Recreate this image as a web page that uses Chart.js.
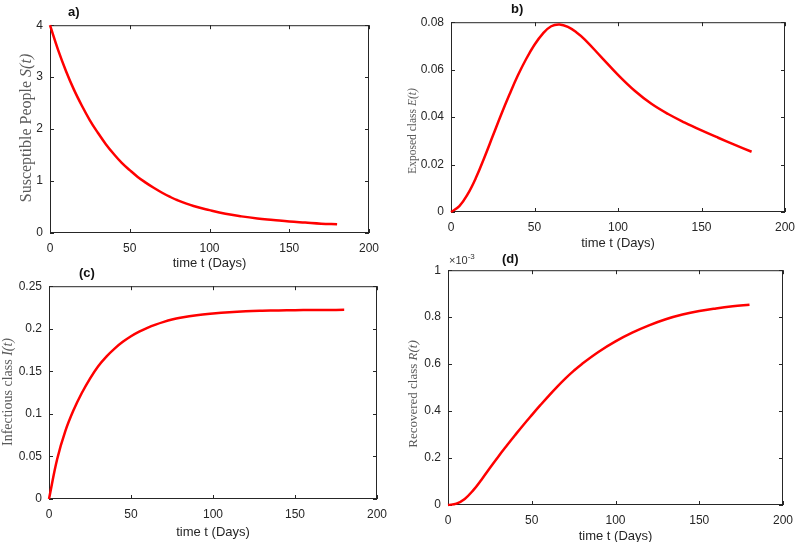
<!DOCTYPE html>
<html>
<head>
<meta charset="utf-8">
<script src="https://cdn.jsdelivr.net/npm/chart.js@4.4.0/dist/chart.umd.min.js"></script>
<style>
  html, body { margin: 0; padding: 0; background: #fff; }
  body { position: relative; width: 796px; height: 542px; overflow: hidden; }
  canvas { position: absolute; }
  .tag { position: absolute; font: bold 13px 'Liberation Sans', Arial, sans-serif; color: #111; line-height: 1; }
  .mult { position: absolute; font: 11px 'Liberation Sans', Arial, sans-serif; color: #333; line-height: 1; }
  .mult sup { font-size: 8px; }
</style>
</head>
<body>
<canvas id="panelA"></canvas>
<canvas id="panelB"></canvas>
<canvas id="panelC"></canvas>
<canvas id="panelD"></canvas>
<div class="tag" style="left:68px; top:5px;">a)</div>
<div class="tag" style="left:511px; top:2px;">b)</div>
<div class="tag" style="left:79px; top:266px;">(c)</div>
<div class="tag" style="left:502px; top:252px;">(d)</div>
<div class="mult" style="left:449px; top:253px;">&times;10<sup>-3</sup></div>
<script>
// time in days
const days = [0, 5, 10, 15, 20, 25, 30, 35, 40, 45, 50, 55, 60, 65, 70, 75, 80, 90, 100, 110, 120, 130, 140, 150, 160, 170, 180];

const susceptible = [4.00, 3.53, 3.12, 2.76, 2.45, 2.17, 1.93, 1.71, 1.52, 1.35, 1.21, 1.08, 0.97, 0.87, 0.78, 0.70, 0.63, 0.52, 0.44, 0.37, 0.32, 0.28, 0.25, 0.22, 0.20, 0.18, 0.17];
const exposed = [0, 0.0025, 0.0075, 0.0145, 0.023, 0.032, 0.041, 0.0495, 0.0575, 0.0645, 0.0705, 0.0752, 0.0783, 0.0790, 0.0780, 0.0758, 0.0728, 0.0653, 0.0578, 0.0511, 0.0456, 0.0413, 0.0377, 0.0344, 0.0313, 0.0283, 0.0254];
const infectious = [0, 0.047, 0.080, 0.1045, 0.1245, 0.1415, 0.156, 0.1673, 0.1767, 0.1846, 0.1912, 0.1966, 0.2011, 0.2049, 0.2081, 0.2108, 0.2129, 0.2160, 0.2180, 0.2195, 0.2205, 0.2211, 0.2215, 0.2218, 0.2220, 0.2221, 0.2222];
// recovered class, in units of 1e-3
const recoveredE3 = [0, 0.006, 0.026, 0.062, 0.108, 0.158, 0.206, 0.252, 0.297, 0.341, 0.383, 0.424, 0.464, 0.502, 0.538, 0.571, 0.601, 0.653, 0.697, 0.734, 0.765, 0.791, 0.811, 0.826, 0.837, 0.846, 0.853];

const xTicks = [0, 50, 100, 150, 200];
const sTicks = [0, 1, 2, 3, 4];
const eTicks = [0, 0.02, 0.04, 0.06, 0.08];
const iTicks = [0, 0.05, 0.1, 0.15, 0.2, 0.25];
const rTicks = [0, 0.2, 0.4, 0.6, 0.8, 1];

const INK = '#262626';
const SANS = "'Liberation Sans', Arial, sans-serif";
const SERIF = "'Liberation Serif', 'Times New Roman', serif";

// box around plot area + inward ticks on all four sides (matlab look)
const boxTicks = {
    id: 'boxTicks',
    beforeDatasetsDraw(chart) {
        const { ctx, chartArea: a, scales: { x, y } } = chart;
        const len = 4;
        ctx.save();
        ctx.strokeStyle = INK;
        ctx.lineWidth = 1;
        ctx.beginPath();
        x.ticks.forEach(t => {
            const px = Math.round(x.getPixelForValue(t.value)) + 0.5;
            ctx.moveTo(px, a.bottom); ctx.lineTo(px, a.bottom - len);
            ctx.moveTo(px, a.top); ctx.lineTo(px, a.top + len);
        });
        y.ticks.forEach(t => {
            const py = Math.round(y.getPixelForValue(t.value)) + 0.5;
            ctx.moveTo(a.left, py); ctx.lineTo(a.left + len, py);
            ctx.moveTo(a.right, py); ctx.lineTo(a.right - len, py);
        });
        ctx.stroke();
        ctx.strokeRect(a.left + 0.5, a.top + 0.5, a.right - a.left - 1, a.bottom - a.top - 1);
        ctx.restore();
    }
};

// rotated y label: plain words + italic math part, e.g. "Exposed class " + "E(t)"
const yLabel = {
    id: 'yLabel',
    afterDraw(chart, args, o) {
        const ctx = chart.ctx;
        ctx.save();
        ctx.translate(o.x, o.y);
        ctx.rotate(-Math.PI / 2);
        ctx.fillStyle = '#5a5a5a';
        ctx.textBaseline = 'middle';
        ctx.textAlign = 'left';
        const plain = o.size + 'px ' + SERIF;
        const ital = 'italic ' + o.size + 'px ' + SERIF;
        ctx.font = plain;
        const w1 = ctx.measureText(o.text).width;
        ctx.font = ital;
        const w2 = ctx.measureText(o.math).width;
        const x0 = -(w1 + w2) / 2;
        ctx.font = plain;
        ctx.fillText(o.text, x0, 0);
        ctx.font = ital;
        ctx.fillText(o.math, x0 + w1, 0);
        ctx.restore();
    }
};

const fmt = v => String(Math.round(v * 10000) / 10000);

function makePanel(id, box, values, yTicks, label) {
    const canvas = document.getElementById(id);
    const padRight = 22;
    const top = box.plotTop - 10;
    const bottom = box.xTitleY + 10;
    canvas.width = box.plotRight + padRight - box.left;
    canvas.height = bottom - top;
    canvas.style.left = box.left + 'px';
    canvas.style.top = top + 'px';

    const yW = box.plotLeft - box.left;
    const xH = bottom - box.plotBottom;

    new Chart(canvas, {
        type: 'line',
        data: {
            labels: days,
            datasets: [{
                data: days.map((d, i) => ({ x: d, y: values[i] })),
                borderColor: '#ff0000',
                borderWidth: 2.5,
                pointRadius: 0,
                tension: 0.4,
                clip: false
            }]
        },
        options: {
            responsive: false,
            animation: false,
            events: [],
            layout: { padding: { left: 0, top: 10, right: padRight, bottom: 0 } },
            plugins: {
                legend: { display: false },
                tooltip: { enabled: false },
                yLabel: {
                    text: label.text, math: label.math, size: label.size,
                    x: label.x - box.left, y: label.y - top
                }
            },
            scales: {
                x: {
                    type: 'linear',
                    min: 0,
                    max: 200,
                    afterBuildTicks: s => { s.ticks = xTicks.map(v => ({ value: v })); },
                    afterFit: s => { s.height = xH; },
                    grid: { display: false, drawTicks: false },
                    border: { display: false },
                    ticks: { color: INK, font: { family: SANS, size: 12 }, padding: 8, maxRotation: 0, callback: fmt },
                    title: { display: true, text: 'time t (Days)', color: INK, font: { family: SANS, size: 13 }, padding: { top: 0, bottom: 2.2 } }
                },
                y: {
                    min: yTicks[0],
                    max: yTicks[yTicks.length - 1],
                    afterBuildTicks: s => { s.ticks = yTicks.map(v => ({ value: v })); },
                    afterFit: s => { s.width = yW; },
                    grid: { display: false, drawTicks: false },
                    border: { display: false },
                    ticks: { color: INK, font: { family: SANS, size: 12 }, padding: 7, callback: fmt }
                }
            }
        },
        plugins: [boxTicks, yLabel]
    });
}

makePanel('panelA', { left: 0, plotLeft: 50, plotTop: 21, plotRight: 369, plotBottom: 233, xTitleY: 263 },
    susceptible, sTicks, { text: 'Susceptible People ', math: 'S(t)', size: 16, x: 27, y: 128 });
makePanel('panelB', { left: 400, plotLeft: 451, plotTop: 18, plotRight: 785, plotBottom: 212, xTitleY: 243 },
    exposed, eTicks, { text: 'Exposed class ', math: 'E(t)', size: 11.5, x: 413, y: 131 });
makePanel('panelC', { left: 0, plotLeft: 49, plotTop: 282, plotRight: 377, plotBottom: 499, xTitleY: 532 },
    infectious, iTicks, { text: 'Infectious class ', math: 'I(t)', size: 14, x: 8, y: 392 });
makePanel('panelD', { left: 400, plotLeft: 448, plotTop: 266, plotRight: 783, plotBottom: 505, xTitleY: 536 },
    recoveredE3, rTicks, { text: 'Recovered class ', math: 'R(t)', size: 13, x: 414, y: 394 });
</script>
</body>
</html>
